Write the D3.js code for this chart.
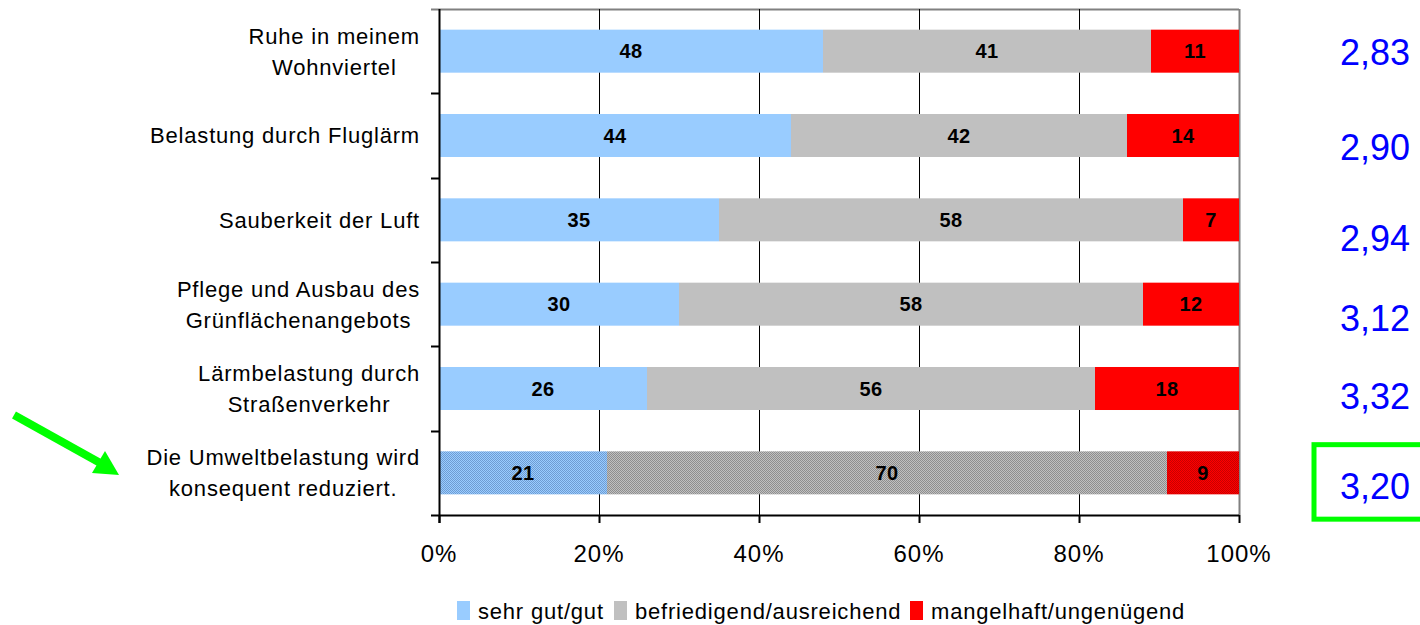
<!DOCTYPE html>
<html>
<head>
<meta charset="utf-8">
<script src="https://cdn.jsdelivr.net/npm/d3@7/dist/d3.min.js"></script>
<style>
  html, body { margin: 0; padding: 0; background: #fff; }
  svg { display: block; font-family: "Liberation Sans", Arial, sans-serif; }
</style>
</head>
<body>
<svg id="chart" width="1420" height="625"></svg>
<script>
// Survey items (line breaks mark the wrapped label lines)
const categories = [
  "Ruhe in meinem\nWohnviertel",
  "Belastung durch Fluglärm",
  "Sauberkeit der Luft",
  "Pflege und Ausbau des\nGrünflächenangebots",
  "Lärmbelastung durch\nStraßenverkehr",
  "Die Umweltbelastung wird\nkonsequent reduziert."
];
const seriesNames = ["sehr gut/gut", "befriedigend/ausreichend", "mangelhaft/ungenügend"];
const goodValues = [48, 44, 35, 30, 26, 21];
const fairValues = [41, 42, 58, 58, 56, 70];
const poorValues = [11, 14, 7, 12, 18, 9];
const meanScores = ["2,83", "2,90", "2,94", "3,12", "3,32", "3,20"];
const xTicks = [0, 20, 40, 60, 80, 100];

// Layout
const plot = { left: 439, right: 1239, top: 9, bottom: 515 };
const colors = ["#99CCFF", "#C0C0C0", "#FF0000"];
const darkColors = ["#6F9CD2", "#8E8E8E", "#C80000"];
const meanNudge = [14, 24, 31, 27, 20, 26]; // baseline offsets of the score column
const highlightIndex = 5;

const svg = d3.select("#chart");

// Dotted fills for the highlighted row
const defs = svg.append("defs");
colors.forEach((c, i) => {
  const p = defs.append("pattern")
    .attr("id", "dots" + i)
    .attr("patternUnits", "userSpaceOnUse")
    .attr("width", 2).attr("height", 2);
  p.append("rect").attr("width", 2).attr("height", 2).attr("fill", c);
  p.append("rect").attr("width", 1).attr("height", 1).attr("fill", darkColors[i]);
  p.append("rect").attr("x", 1).attr("y", 1).attr("width", 1).attr("height", 1).attr("fill", darkColors[i]);
});

const x = d3.scaleLinear().domain([0, 100]).range([plot.left, plot.right]);
const yRow = d3.scaleBand().domain(d3.range(categories.length)).range([plot.top, plot.bottom]).padding(0);
const yBar = d3.scaleBand().domain(d3.range(categories.length)).range([plot.top, plot.bottom])
  .paddingInner(0.49).paddingOuter(0.245);

// Plot frame: grey top/right edges
svg.append("line").attr("x1", plot.left - 8).attr("x2", plot.right)
  .attr("y1", plot.top + 0.5).attr("y2", plot.top + 0.5)
  .attr("stroke", "#808080").attr("stroke-width", 2);
svg.append("line").attr("x1", plot.right + 0.5).attr("x2", plot.right + 0.5)
  .attr("y1", plot.top).attr("y2", plot.bottom)
  .attr("stroke", "#808080").attr("stroke-width", 2);

// Vertical gridlines
svg.append("g").selectAll("line").data(xTicks.slice(1, -1)).join("line")
  .attr("x1", d => Math.round(x(d)) + 0.5).attr("x2", d => Math.round(x(d)) + 0.5)
  .attr("y1", plot.top).attr("y2", plot.bottom)
  .attr("stroke", "#000").attr("stroke-width", 1);

// Stacked bars
const stackRows = categories.map((c, i) => ({ i, s0: goodValues[i], s1: fairValues[i], s2: poorValues[i] }));
const stacked = d3.stack().keys(["s0", "s1", "s2"])(stackRows);

const barG = svg.append("g");
stacked.forEach((layer, k) => {
  barG.append("g").selectAll("rect").data(layer).join("rect")
    .attr("x", d => x(d[0]))
    .attr("width", d => x(d[1]) - x(d[0]))
    .attr("y", d => yBar(d.data.i))
    .attr("height", yBar.bandwidth())
    .attr("fill", d => d.data.i === highlightIndex ? `url(#dots${k})` : colors[k]);
  barG.append("g").selectAll("text").data(layer).join("text")
    .attr("x", d => (x(d[0]) + x(d[1])) / 2)
    .attr("y", d => yBar(d.data.i) + yBar.bandwidth() / 2)
    .attr("dy", "0.36em")
    .attr("text-anchor", "middle")
    .attr("font-weight", "bold")
    .attr("font-size", 20)
    .attr("letter-spacing", 0.5)
    .attr("fill", "#000")
    .text(d => d[1] - d[0]);
});

// Category axis (left)
const yAxisG = svg.append("g").attr("transform", `translate(${plot.left},0)`);
yAxisG.append("line").attr("x1", 0.5).attr("x2", 0.5).attr("y1", plot.top).attr("y2", plot.bottom + 8)
  .attr("stroke", "#000").attr("stroke-width", 2);
yAxisG.selectAll(".tk").data(d3.range(1, categories.length)).join("line")
  .attr("x1", -8).attr("x2", 0)
  .attr("y1", d => Math.round(yRow(d)) + 0.5).attr("y2", d => Math.round(yRow(d)) + 0.5)
  .attr("stroke", "#000").attr("stroke-width", 2);

// Category labels: lines centred on each other, block right-aligned
const labelSize = 22, lineGap = 31, labelRight = 420;
categories.forEach((c, i) => {
  const lines = c.split("\n");
  const g = svg.append("g");
  const texts = lines.map((ln, j) => g.append("text")
    .attr("font-size", labelSize)
    .attr("letter-spacing", 0.8)
    .attr("fill", "#000")
    .attr("text-anchor", "middle")
    .attr("y", yRow(i) + yRow.bandwidth() / 2 + (j - (lines.length - 1) / 2) * lineGap)
    .attr("dy", "0.36em")
    .text(ln));
  const maxW = d3.max(texts, t => t.node().getComputedTextLength());
  texts.forEach(t => t.attr("x", labelRight - maxW / 2));
});

// Percent axis (bottom)
const xAxisG = svg.append("g").attr("transform", `translate(0,${plot.bottom})`);
xAxisG.append("line").attr("x1", plot.left - 8).attr("x2", plot.right).attr("y1", 0.5).attr("y2", 0.5)
  .attr("stroke", "#000").attr("stroke-width", 2);
xAxisG.selectAll(".tk").data(xTicks).join("line")
  .attr("x1", d => Math.round(x(d)) + 0.5).attr("x2", d => Math.round(x(d)) + 0.5)
  .attr("y1", 0).attr("y2", 8)
  .attr("stroke", "#000").attr("stroke-width", 2);
xAxisG.selectAll("text").data(xTicks).join("text")
  .attr("x", d => x(d)).attr("y", 47)
  .attr("text-anchor", "middle")
  .attr("font-size", 24)
  .attr("letter-spacing", 1)
  .attr("fill", "#000")
  .text(d => d + "%");

// Mean score column
svg.append("g").selectAll("text").data(meanScores).join("text")
  .attr("x", 1410)
  .attr("y", (d, i) => yRow(i) + yRow.bandwidth() / 2 + meanNudge[i])
  .attr("text-anchor", "end")
  .attr("font-size", 36)
  .attr("fill", "#0000FF")
  .text(d => d);

// Highlight box around the last score
const hy = yRow(highlightIndex);
svg.append("rect")
  .attr("x", 1314).attr("y", hy + 14)
  .attr("width", 130).attr("height", 74.5)
  .attr("fill", "none").attr("stroke", "#00FF00").attr("stroke-width", 5);

// Pointer arrow towards the highlighted item
const arrowG = svg.append("g").attr("fill", "#00FF00");
arrowG.append("line").attr("x1", 14).attr("y1", 415).attr("x2", 102).attr("y2", 464)
  .attr("stroke", "#00FF00").attr("stroke-width", 8);
arrowG.append("polygon").attr("points", "119,475 92,473 105,451");

// Legend
const legend = svg.append("g").attr("transform", "translate(0,611)");
const legendX = [457, 614, 910];
seriesNames.forEach((n, i) => {
  legend.append("rect").attr("x", legendX[i]).attr("y", -10).attr("width", 13).attr("height", 19)
    .attr("fill", colors[i]);
  legend.append("text").attr("x", legendX[i] + 21).attr("y", 0).attr("dy", "0.36em")
    .attr("font-size", 22).attr("letter-spacing", 0.8).attr("fill", "#000").text(n);
});
</script>
</body>
</html>
